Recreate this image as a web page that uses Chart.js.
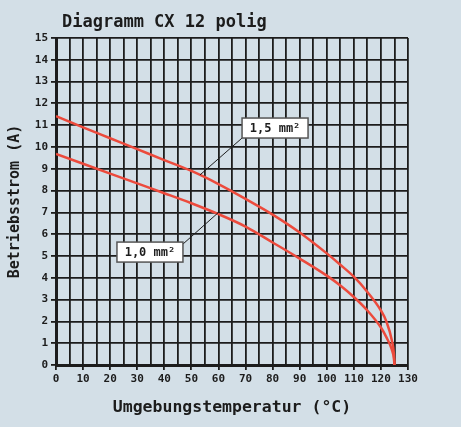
<!DOCTYPE html>
<html>
<head>
<meta charset="utf-8">
<script src="https://cdn.jsdelivr.net/npm/chart.js@4.4.1/dist/chart.umd.min.js"></script>
<style>
  html, body { margin: 0; padding: 0; background: #d3dfe7; }
  #wrap { position: relative; width: 461px; height: 427px; }
</style>
</head>
<body>
<div id="wrap"><canvas id="derating"></canvas></div>
<script>
// Werte
const temps = [0, 10, 20, 30, 40, 50, 60, 70, 80, 90, 100, 105, 110, 115, 120, 122, 124, 124.8, 125];
const current15 = [11.42, 10.9, 10.4, 9.9, 9.4, 8.9, 8.3, 7.62, 6.9, 6.08, 5.12, 4.6, 4.05, 3.35, 2.5, 2.0, 1.15, 0.5, 0];
const current10 = [9.68, 9.23, 8.78, 8.33, 7.88, 7.42, 6.92, 6.35, 5.62, 4.88, 4.1, 3.65, 3.12, 2.5, 1.72, 1.28, 0.72, 0.3, 0];
const seriesNames = ['1,5 mm²', '1,0 mm²'];
// Beschriftungen: Box-Mitte und Punkt auf der Kurve (in Datenwerten)
const labelBox = [[80.9, 10.87], [34.7, 5.18]];
const labelTarget = [[53.2, 8.72], [60.2, 7.02]];

const FONT = '"DejaVu Sans Mono", monospace';
const RED = '#ec4a3c';
const INK = '#1c1c1c';

const toPoints = (ys) => temps.map((t, i) => ({ x: t, y: ys[i] }));

const titlePlugin = {
    id: 'headline',
    afterDraw(chart) {
        const c = chart.ctx;
        c.save();
        c.font = 'bold 17px ' + FONT;
        c.fillStyle = INK;
        c.textBaseline = 'alphabetic';
        c.fillText('Diagramm CX 12 polig', 62, 27);
        c.restore();
    }
};

const calloutPlugin = {
    id: 'callouts',
    afterDatasetsDraw(chart) {
        const c = chart.ctx;
        const xs = chart.scales.x, ys = chart.scales.y;
        c.save();
        c.font = 'bold 12px ' + FONT;
        seriesNames.forEach((name, i) => {
            const bx = xs.getPixelForValue(labelBox[i][0]);
            const by = ys.getPixelForValue(labelBox[i][1]);
            const tx = xs.getPixelForValue(labelTarget[i][0]);
            const ty = ys.getPixelForValue(labelTarget[i][1]);
            const w = 66, h = 20;
            const left = bx - w / 2, top = by - h / 2;
            // Hinweislinie
            c.strokeStyle = INK;
            c.lineWidth = 1;
            c.beginPath();
            if (i === 0) c.moveTo(left, top + h);
            else c.moveTo(left + w, top + 2);
            c.lineTo(tx, ty);
            c.stroke();
            // Box
            c.fillStyle = '#ffffff';
            c.fillRect(left, top, w, h);
            c.strokeStyle = '#555';
            c.lineWidth = 1.5;
            c.strokeRect(left, top, w, h);
            c.fillStyle = INK;
            c.textAlign = 'center';
            c.textBaseline = 'middle';
            c.fillText(name, bx, by + 1);
        });
        c.restore();
    }
};

new Chart(document.getElementById('derating'), {
    type: 'line',
    data: {
        datasets: [
            { label: seriesNames[0], data: toPoints(current15) },
            { label: seriesNames[1], data: toPoints(current10) }
        ]
    },
    options: {
        responsive: true,
        maintainAspectRatio: false,
        animation: false,
        layout: { padding: { left: 0, top: 38, right: 53, bottom: 0 } },
        elements: {
            line: { borderColor: RED, borderWidth: 2.5, cubicInterpolationMode: 'monotone', fill: false },
            point: { radius: 0 }
        },
        plugins: { legend: { display: false }, tooltip: { enabled: false } },
        scales: {
            x: {
                type: 'linear', min: 0, max: 130,
                afterFit: (s) => { s.height = 62; },
                border: { display: true, color: INK, width: 3 },
                grid: {
                    color: INK, lineWidth: 1.8, tickLength: 5,
                    tickColor: (ctx) => (ctx.tick && ctx.tick.value % 10 === 0) ? INK : 'rgba(0,0,0,0)'
                },
                ticks: {
                    stepSize: 5, autoSkip: false, maxRotation: 0, padding: 3,
                    color: INK, font: { family: FONT, size: 11, weight: 'bold' },
                    callback: (v) => v % 10 === 0 ? v : ''
                },
                title: {
                    display: true, text: 'Umgebungstemperatur (°C)', color: INK,
                    font: { family: FONT, size: 16.5, weight: 'bold' }, padding: { top: 4, bottom: 9 }
                }
            },
            y: {
                min: 0, max: 15,
                afterFit: (s) => { s.width = 56; },
                border: { display: true, color: INK, width: 3 },
                grid: { color: INK, lineWidth: 1.8, tickLength: 5 },
                ticks: {
                    stepSize: 1, padding: 3, color: INK,
                    font: { family: FONT, size: 11, weight: 'bold' }
                },
                title: {
                    display: true, text: 'Betriebsstrom (A)', color: INK,
                    font: { family: FONT, size: 15, weight: 'bold' }, padding: { top: 6 }
                }
            }
        }
    },
    plugins: [titlePlugin, calloutPlugin]
});
</script>
</body>
</html>
